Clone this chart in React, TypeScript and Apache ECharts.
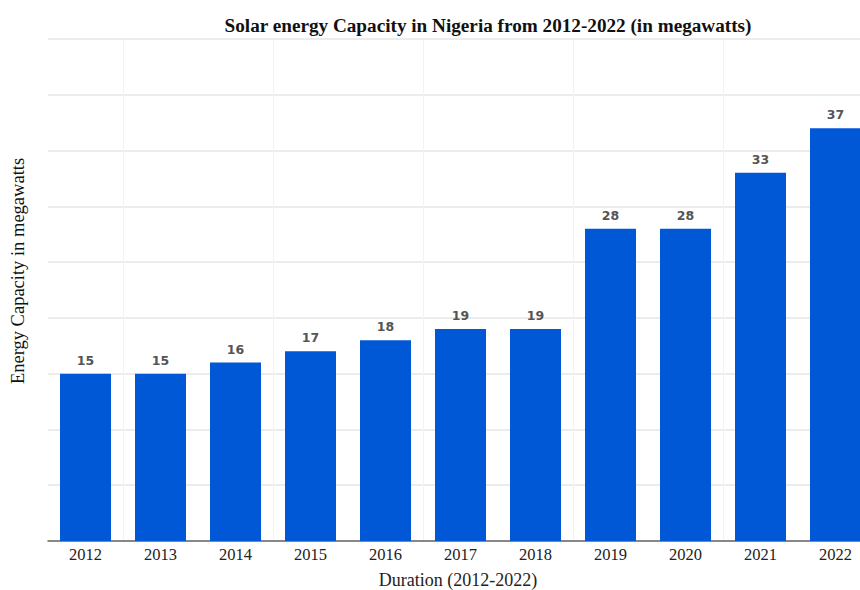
import React, { useEffect, useRef } from "react";
import * as echarts from "echarts";

const categories = ["2012", "2013", "2014", "2015", "2016", "2017", "2018", "2019", "2020", "2021", "2022"];
const capacity = [15, 15, 16, 17, 18, 19, 19, 28, 28, 33, 37];

const titleText = "Solar energy Capacity in Nigeria from 2012-2022 (in megawatts)";
const yName = "Energy Capacity in megawatts";
const xName = "Duration (2012-2022)";

export default function App() {
  const ref = useRef<HTMLDivElement>(null);
  useEffect(() => {
    document.body.style.margin = "0";
    document.body.style.overflow = "hidden";
    const chart = echarts.init(ref.current!, null, { renderer: "svg" });
    chart.setOption({
      animation: false,
      backgroundColor: "#ffffff",
      title: {
        text: titleText,
        left: 483,
        top: 11,
        textAlign: "center",
        textStyle: { fontFamily: "Liberation Serif", fontWeight: "bold", fontSize: 19.2, color: "#111" },
      },
      grid: { left: 48, top: 39, width: 825, height: 502 },
      xAxis: {
        type: "category",
        data: categories,
        boundaryGap: true,
        axisLine: { show: true, lineStyle: { color: "#666", width: 1.5 } },
        axisTick: { show: false },
        axisLabel: { fontFamily: "Liberation Serif", fontSize: 16.5, color: "#222", margin: 5 },
        splitLine: {
          show: true,
          interval: (index: number) => index % 2 === 1,
          lineStyle: { color: "#f2f2f2", width: 1 },
        },
      },
      yAxis: {
        type: "value",
        min: 0,
        max: 45,
        interval: 5,
        axisLabel: { show: false },
        axisLine: { show: false },
        axisTick: { show: false },
        splitLine: { show: true, lineStyle: { color: "#e6e6e6", width: 1.5 } },
      },
      graphic: [
        {
          type: "text",
          x: 18,
          y: 271,
          rotation: Math.PI / 2,
          style: {
            text: yName,
            fontFamily: "Liberation Serif",
            fontSize: 18.5,
            fill: "#111",
            align: "center",
            verticalAlign: "middle",
          },
        },
        {
          type: "text",
          x: 458,
          y: 580,
          style: {
            text: xName,
            fontFamily: "Liberation Serif",
            fontSize: 18,
            fill: "#222",
            align: "center",
            verticalAlign: "middle",
          },
        },
      ],
      series: [
        {
          type: "bar",
          data: capacity,
          barWidth: 51,
          itemStyle: { color: "#0058d6" },
          label: {
            show: true,
            position: "top",
            distance: 7,
            fontFamily: "DejaVu Sans",
            fontWeight: "bold",
            fontSize: 12.5,
            color: "#555",
          },
        },
      ],
    });
    return () => chart.dispose();
  }, []);
  return <div ref={ref} style={{ width: 875, height: 590 }} />;
}
